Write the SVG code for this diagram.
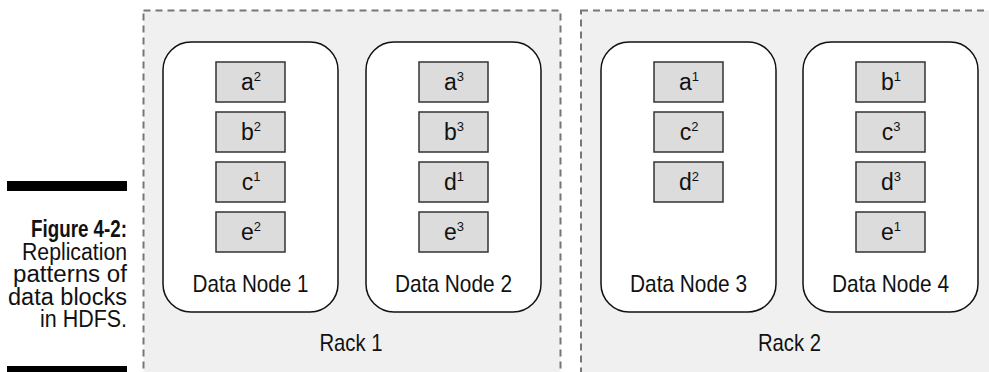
<svg xmlns="http://www.w3.org/2000/svg" width="989" height="372" viewBox="0 0 989 372">
<style>
.rack{fill:#f0f0f0;stroke:#777;stroke-width:2;stroke-dasharray:7 5}
.node{fill:#fff;stroke:#111;stroke-width:1.5}
.blk{fill:#dcdcdc;stroke:#333;stroke-width:1.5}
text{font-family:"Liberation Sans",Arial,sans-serif;fill:#111}
.bl{font-size:23px;text-anchor:middle}
.sup{font-size:13px}
.lbl{font-size:24px;text-anchor:middle}
.cap{font-size:23px;text-anchor:end}
</style>
<rect x="0" y="0" width="989" height="372" fill="#fff"/>
<g id="caption">
<rect x="7" y="181" width="120" height="10" fill="#000"/>
<rect x="7" y="366" width="120" height="10" fill="#000"/>
<text class="cap" x="127" y="237" font-weight="bold" textLength="96" lengthAdjust="spacingAndGlyphs">Figure 4-2:</text>
<text class="cap" x="127" y="259.5" textLength="105" lengthAdjust="spacingAndGlyphs">Replication</text>
<text class="cap" x="127" y="282" textLength="114" lengthAdjust="spacingAndGlyphs">patterns of</text>
<text class="cap" x="127" y="304.5" textLength="119" lengthAdjust="spacingAndGlyphs">data blocks</text>
<text class="cap" x="127" y="327" textLength="87" lengthAdjust="spacingAndGlyphs">in HDFS.</text>
</g>
<g id="rack1">
<rect class="rack" x="143.5" y="10.5" width="417" height="380"/>
<text class="lbl" x="351" y="351" textLength="63" lengthAdjust="spacingAndGlyphs">Rack 1</text>
</g>
<g id="rack2">
<rect class="rack" x="581" y="10.5" width="420" height="380"/>
<text class="lbl" x="789.5" y="351" textLength="63" lengthAdjust="spacingAndGlyphs">Rack 2</text>
</g>
<g id="node1">
<rect class="node" x="163" y="42" width="175" height="270" rx="28"/>
<rect class="blk" x="216" y="62" width="69" height="40"/>
<text class="bl" x="251" y="90">a<tspan class="sup" dy="-9">2</tspan></text>
<rect class="blk" x="216" y="112" width="69" height="40"/>
<text class="bl" x="251" y="140">b<tspan class="sup" dy="-9">2</tspan></text>
<rect class="blk" x="216" y="162" width="69" height="40"/>
<text class="bl" x="251" y="190">c<tspan class="sup" dy="-9">1</tspan></text>
<rect class="blk" x="216" y="212" width="69" height="40"/>
<text class="bl" x="251" y="240">e<tspan class="sup" dy="-9">2</tspan></text>
<text class="lbl" x="250.5" y="292" textLength="116" lengthAdjust="spacingAndGlyphs">Data Node 1</text>
</g>
<g id="node2">
<rect class="node" x="366" y="42" width="175" height="270" rx="28"/>
<rect class="blk" x="419" y="62" width="69" height="40"/>
<text class="bl" x="454" y="90">a<tspan class="sup" dy="-9">3</tspan></text>
<rect class="blk" x="419" y="112" width="69" height="40"/>
<text class="bl" x="454" y="140">b<tspan class="sup" dy="-9">3</tspan></text>
<rect class="blk" x="419" y="162" width="69" height="40"/>
<text class="bl" x="454" y="190">d<tspan class="sup" dy="-9">1</tspan></text>
<rect class="blk" x="419" y="212" width="69" height="40"/>
<text class="bl" x="454" y="240">e<tspan class="sup" dy="-9">3</tspan></text>
<text class="lbl" x="453.5" y="292" textLength="117" lengthAdjust="spacingAndGlyphs">Data Node 2</text>
</g>
<g id="node3">
<rect class="node" x="601" y="42" width="175" height="270" rx="28"/>
<rect class="blk" x="654" y="62" width="69" height="40"/>
<text class="bl" x="689" y="90">a<tspan class="sup" dy="-9">1</tspan></text>
<rect class="blk" x="654" y="112" width="69" height="40"/>
<text class="bl" x="689" y="140">c<tspan class="sup" dy="-9">2</tspan></text>
<rect class="blk" x="654" y="162" width="69" height="40"/>
<text class="bl" x="689" y="190">d<tspan class="sup" dy="-9">2</tspan></text>
<text class="lbl" x="688.5" y="292" textLength="117" lengthAdjust="spacingAndGlyphs">Data Node 3</text>
</g>
<g id="node4">
<rect class="node" x="803" y="42" width="175" height="270" rx="28"/>
<rect class="blk" x="856" y="62" width="69" height="40"/>
<text class="bl" x="891" y="90">b<tspan class="sup" dy="-9">1</tspan></text>
<rect class="blk" x="856" y="112" width="69" height="40"/>
<text class="bl" x="891" y="140">c<tspan class="sup" dy="-9">3</tspan></text>
<rect class="blk" x="856" y="162" width="69" height="40"/>
<text class="bl" x="891" y="190">d<tspan class="sup" dy="-9">3</tspan></text>
<rect class="blk" x="856" y="212" width="69" height="40"/>
<text class="bl" x="891" y="240">e<tspan class="sup" dy="-9">1</tspan></text>
<text class="lbl" x="890.5" y="292" textLength="117" lengthAdjust="spacingAndGlyphs">Data Node 4</text>
</g>
<g id="connectors"></g>
</svg>
